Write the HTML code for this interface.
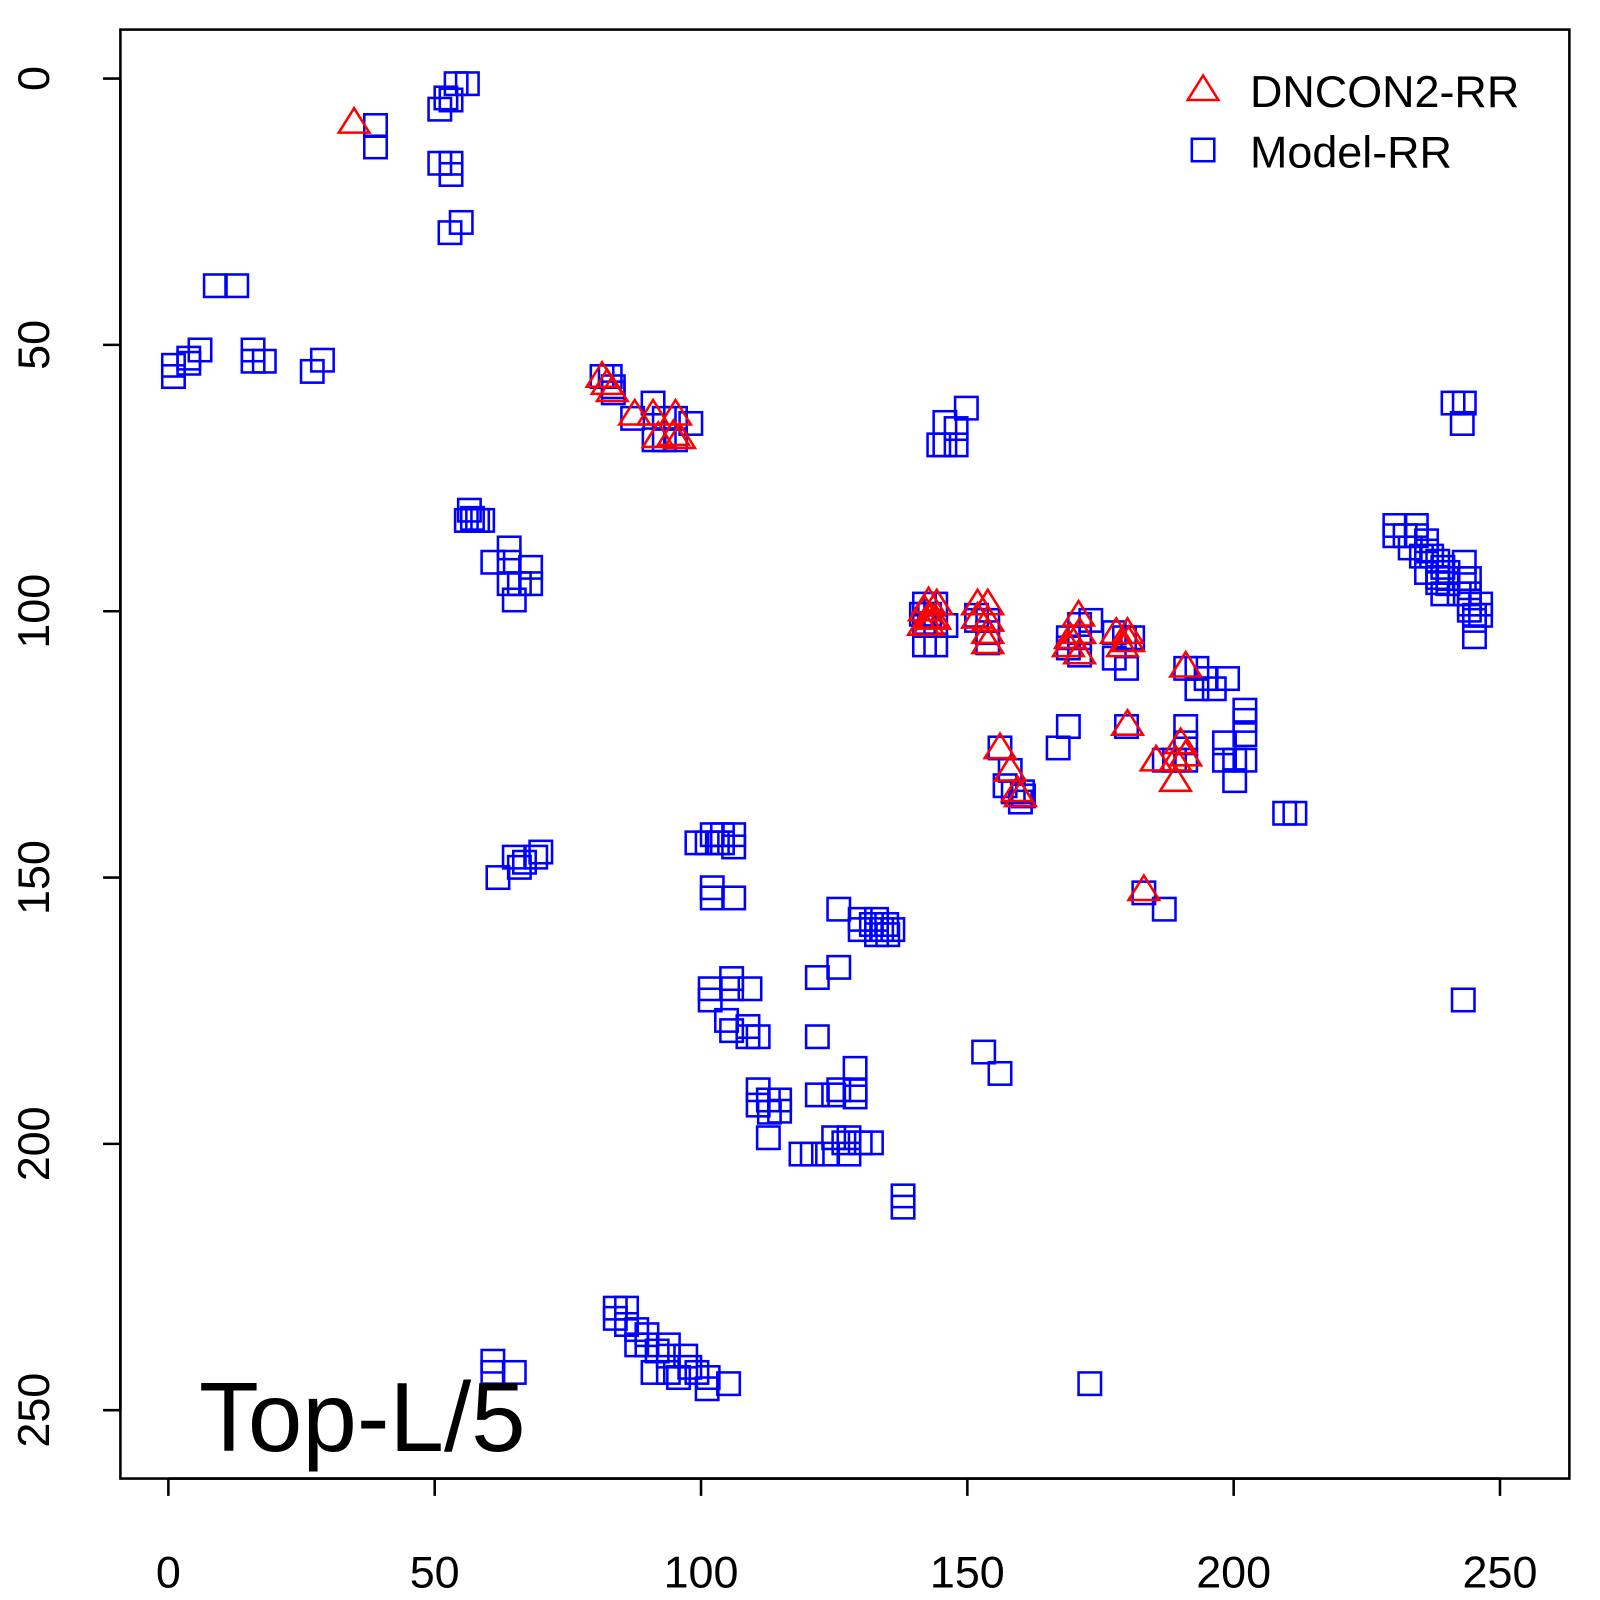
<!DOCTYPE html>
<html><head><meta charset="utf-8"><style>html,body{margin:0;padding:0;background:#fff}svg{display:block}</style></head>
<body>
<svg id="s" width="1600" height="1600" xmlns="http://www.w3.org/2000/svg" font-family="Liberation Sans, sans-serif">
<rect x="0" y="0" width="1600" height="1600" fill="#fff"/>
<g transform="scale(1.0204)">
<g id="pts"></g>
<rect x="118" y="29" width="1420" height="1420" fill="none" stroke="#000" stroke-width="2.5"/>
<g stroke="#000" stroke-width="2.5">
<line x1="165" y1="1449" x2="1470" y2="1449"/>
<line x1="165" y1="1449" x2="165" y2="1466"/><line x1="426" y1="1449" x2="426" y2="1466"/><line x1="687" y1="1449" x2="687" y2="1466"/><line x1="948" y1="1449" x2="948" y2="1466"/><line x1="1209" y1="1449" x2="1209" y2="1466"/><line x1="1470" y1="1449" x2="1470" y2="1466"/>
<line x1="118" y1="77" x2="118" y2="1382"/>
<line x1="101" y1="77" x2="118" y2="77"/><line x1="101" y1="338" x2="118" y2="338"/><line x1="101" y1="599" x2="118" y2="599"/><line x1="101" y1="860" x2="118" y2="860"/><line x1="101" y1="1121" x2="118" y2="1121"/><line x1="101" y1="1382" x2="118" y2="1382"/>
</g>
<g font-size="44" text-anchor="middle" fill="#000">
<text x="165" y="1556">0</text><text x="426" y="1556">50</text><text x="687" y="1556">100</text><text x="948" y="1556">150</text><text x="1209" y="1556">200</text><text x="1470" y="1556">250</text>
<text transform="translate(48,77) rotate(-90)">0</text>
<text transform="translate(48,338) rotate(-90)">50</text>
<text transform="translate(48,599) rotate(-90)">100</text>
<text transform="translate(48,860) rotate(-90)">150</text>
<text transform="translate(48,1121) rotate(-90)">200</text>
<text transform="translate(48,1382) rotate(-90)">250</text>
</g>
<text x="195" y="1422" font-size="96">Top-L/5</text>
<polygon points="1179,74 1164,98 1194,98" fill="none" stroke="red" stroke-width="2.5"/>
<rect x="1168" y="136" width="22" height="22" fill="none" stroke="blue" stroke-width="2.5"/>
<text x="1225" y="105" font-size="44">DNCON2-RR</text>
<text x="1225" y="164" font-size="44">Model-RR</text>
</g>
</svg>
<script>
var S=[[447,82],[458,82],[437,96],[442,98],[431,107],[368,123],[368,144],[431,160],[442,160],[442,171],[452,218],[441,228],
[211,280],[232,280],[170,358],[170,369],[185,351],[185,356],[196,343],[248,343],[248,354],[259,354],[306,364],[316,353],
[590,369],[598,369],[601,379],[601,385],[620,410],[640,395],[641,431],[651,431],[662,431],[662,410],[677,415],[651,410],
[947,400],[937,420],[926,414],[926,436],[937,436],[920,436],
[460,500],[463,508],[457,510],[468,510],[473,510],[499,537],[483,551],[499,551],[520,556],[520,572],[499,572],[504,588],[509,572],
[1367,515],[1388,515],[1367,525],[1377,525],[1388,525],[1398,530],[1398,540],[1382,537],[1393,545],[1403,545],[1409,550],[1409,561],[1419,561],[1414,556],[1398,561],[1409,566],[1419,572],[1430,582],[1414,582],[1435,567],[1440,567],[1440,582],[1440,592],[1445,603],[1445,608],[1451,603],[1440,598],[1419,567],[1409,571],[1451,592],[1445,624],[1435,551],
[906,592],[917,592],[911,602],[903,602],[906,613],[917,613],[906,632],[917,632],[927,613],
[957,608],[968,608],[968,620],[968,630],[957,603],
[1058,612],[1069,608],[1047,625],[1058,625],[1047,635],[1058,642],[1092,620],[1102,625],[1092,645],[1104,655],[1110,625],
[1173,655],[1173,675],[1182,665],[1190,675],[1203,665],[1162,655],
[1220,696],[1220,706],[1220,720],[1220,745],[1210,745],[1210,765],[1200,728],[1200,745],[1162,712],[1162,728],[1151,745],[1141,745],[1162,745],
[1047,712],[1037,733],[1104,712],
[980,733],[990,755],[993,776],[1000,786],[1002,776],[985,770],[1003,780],
[1259,797],[1269,797],[1424,395],[1435,395],[1433,415],
[693,826],[683,826],[703,826],[719,818],[719,830],[708,826],[698,818],[708,818],[698,870],[698,880],[719,880],[530,835],[525,840],[514,845],[504,840],[509,850],[488,860],
[822,891],[843,901],[859,901],[869,906],[875,911],[870,916],[864,911],[854,906],[843,911],[859,916],
[1121,875],[1141,891],
[696,969],[696,980],[717,959],[717,969],[735,969],[712,1000],[717,1010],[733,1006],[733,1016],[743,1016],[822,948],[801,958],[801,1016],
[743,1068],[743,1083],[753,1078],[764,1078],[764,1089],[754,1090],[753,1115],[822,1068],[801,1073],[817,1073],[838,1047],[838,1068],[838,1075],[785,1131],[796,1131],[811,1131],[817,1115],[827,1120],[832,1115],[843,1120],[854,1120],[832,1131],[885,1172],[885,1183],[964,1031],[980,1052],
[1434,980],
[603,1282],[614,1282],[603,1292],[614,1298],[624,1303],[634,1308],[624,1318],[634,1318],[644,1324],[655,1318],[655,1329],[672,1329],[676,1340],[683,1345],[694,1350],[693,1361],[714,1356],[640,1345],[655,1345],[665,1350],[483,1334],[483,1345],[504,1345],[1068,1356]];
var T=[[347,120],[590,369],[595,376],[600,383],[622,406],[640,406],[645,428],[662,406],[660,426],[666,429],
[910,590],[918,592],[906,598],[912,605],[910,612],[916,606],[905,612],
[958,592],[968,592],[958,605],[968,608],[968,620],[968,630],
[1057,603],[1058,620],[1049,625],[1047,633],[1058,640],[1094,620],[1105,620],[1100,633],[1106,628],
[1162,653],[1105,710],[1157,728],[1152,745],[1133,745],[1152,765],[1162,740],
[980,733],[990,755],[997,775],[1000,780],[1121,872]];
var h='';
S.forEach(function(p){h+='<rect x="'+(p[0]-11)+'" y="'+(p[1]-11)+'" width="22" height="22" fill="none" stroke="blue" stroke-width="2.5"/>';});
T.forEach(function(p){h+='<polygon points="'+p[0]+','+(p[1]-14)+' '+(p[0]-15)+','+(p[1]+10)+' '+(p[0]+15)+','+(p[1]+10)+'" fill="none" stroke="red" stroke-width="2.5"/>';});
document.getElementById('pts').innerHTML=h;
</script>
</body></html>
